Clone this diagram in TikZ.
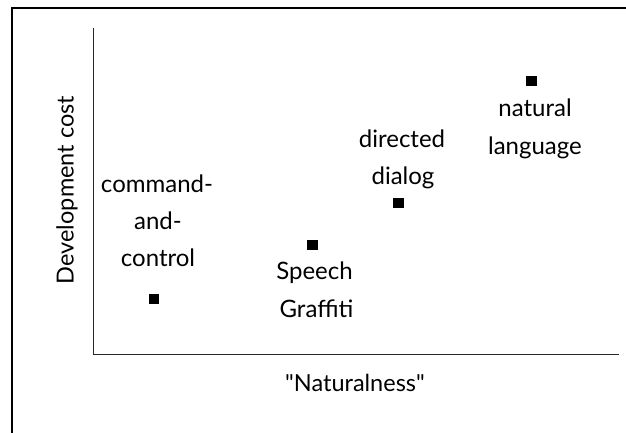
\documentclass[tikz,border=0pt]{standalone}
\usepackage{fontspec}
\setmainfont{Lato}[Ligatures=TeXOff]
\begin{document}
\begin{tikzpicture}[x=1pt,y=-1pt,
  frame/.style={line width=2pt,black},
  axis/.style={line width=1pt,black!85},
  mk/.style={fill=black,draw=none,minimum size=10.5pt,inner sep=0pt},
  lbl/.style={font=\fontsize{24}{28}\selectfont,inner sep=0pt,anchor=base},
  axlbl/.style={font=\fontsize{23.5}{28}\selectfont,inner sep=0pt}]
\useasboundingbox (0,0) rectangle (626,433);
% frame (cropped at right and bottom)
\coordinate (fbl) at (12,433);
\coordinate (ftl) at (12,8.5);
\coordinate (ftr) at (626,8.5);
\draw[frame] (fbl) -- (ftl) -- (ftr);
% axes
\coordinate (ytop) at (93,28);
\coordinate (orig) at (93,354);
\coordinate (xend) at (619,354);
\draw[axis] (ytop) -- (orig) -- (xend);
% axis labels
\node[axlbl,rotate=90] (ylab) at (67,190) {Development cost};
\node[axlbl] (xlab) at (355,383) {"Naturalness"};
% markers
\node[mk] (m1) at (154,299) {};
\node[mk] (m2) at (312.5,245) {};
\node[mk] (m3) at (398.5,203) {};
\node[mk] (m4) at (531.5,81) {};
% labels
\node[lbl] (c1) at (157,192) {command-};
\node[lbl] (c2) at (158,229) {and-};
\node[lbl] (c3) at (158,266) {control};
\node[lbl] (s1) at (314.5,279) {Speech};
\node[lbl] (s2) at (316.5,317) {Graffiti};
\node[lbl] (d1) at (402,147) {directed};
\node[lbl] (d2) at (403,184) {dialog};
\node[lbl] (n1) at (535,117) {natural};
\node[lbl] (n2) at (535,154) {language};
\end{tikzpicture}
\end{document}
